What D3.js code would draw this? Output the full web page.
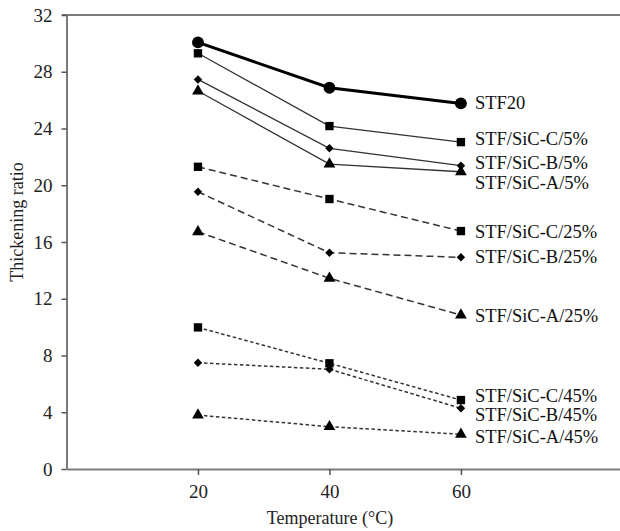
<!DOCTYPE html>
<meta charset="utf-8">
<body style="margin:0;background:#fff">
<script src="https://d3js.org/d3.v7.min.js"></script>
<script>
var width = 620, height = 531;

// data
var temps = [20, 40, 60];
var yTicks = [0, 4, 8, 12, 16, 20, 24, 28, 32];
var names = ["STF20", "STF/SiC-C/5%", "STF/SiC-B/5%", "STF/SiC-A/5%",
             "STF/SiC-C/25%", "STF/SiC-B/25%", "STF/SiC-A/25%",
             "STF/SiC-C/45%", "STF/SiC-B/45%", "STF/SiC-A/45%"];
var values = [
  [30.07, 26.87, 25.77],
  [29.3, 24.17, 23.04],
  [27.46, 22.6, 21.38],
  [26.64, 21.49, 20.95],
  [21.3, 19.03, 16.77],
  [19.54, 15.24, 14.92],
  [16.72, 13.44, 10.85],
  [9.98, 7.45, 4.86],
  [7.49, 7.03, 4.28],
  [3.8, 2.98, 2.45]
];
var labelAt = [25.81, 23.26, 21.58, 20.18, 16.72, 14.96, 10.85, 5.2, 3.82, 2.28];
var markers = ["circle", "square", "diamond", "triangle",
               "square", "diamond", "triangle",
               "square", "diamond", "triangle"];
var group = ["bold", "solid", "solid", "solid",
             "dash", "dash", "dash",
             "dot", "dot", "dot"];

var x = d3.scaleLinear().domain([0, 84.2]).range([66.5, 620]);
var y = d3.scaleLinear().domain([0, 32]).range([469, 15]);

var svg = d3.select("body").append("svg")
    .attr("width", width)
    .attr("height", height)
    .style("font-family", "'Liberation Serif', 'Times New Roman', serif");

// top frame line
svg.append("line")
    .attr("x1", 62).attr("x2", 620)
    .attr("y1", y(32)).attr("y2", y(32))
    .attr("stroke", "#7a7a7a").attr("stroke-width", 2);

var yAxis = svg.append("g")
    .attr("transform", "translate(" + x(0) + ",0)")
    .call(d3.axisLeft(y).tickValues(yTicks).tickSize(5).tickPadding(9).tickSizeOuter(0));

var xAxis = svg.append("g")
    .attr("transform", "translate(0," + y(0) + ")")
    .call(d3.axisBottom(x).tickValues(temps).tickSize(6).tickPadding(10).tickSizeOuter(0));

[yAxis, xAxis].forEach(function(a) {
  a.select(".domain").attr("stroke", "#7a7a7a").attr("stroke-width", 2);
  a.selectAll(".tick line").attr("stroke", "#555").attr("stroke-width", 1.5);
  a.selectAll(".tick text")
    .attr("fill", "#222")
    .style("font-size", "19px")
    .style("font-family", "'Liberation Serif', serif");
});

svg.append("text")
    .attr("x", 330).attr("y", 524)
    .attr("text-anchor", "middle")
    .attr("fill", "#222")
    .style("font-size", "18px")
    .text("Temperature (\u00B0C)");

svg.append("text")
    .attr("transform", "translate(23,222) rotate(-90)")
    .attr("text-anchor", "middle")
    .attr("fill", "#222")
    .style("font-size", "18px")
    .text("Thickening ratio");

var line = d3.line()
    .x(function(d, i) { return x(temps[i]); })
    .y(function(d) { return y(d); });

var styles = {
  bold: { w: 3, dash: null, c: "#000" },
  solid: { w: 1.3, dash: null, c: "#333" },
  dash: { w: 1.5, dash: "7,4", c: "#333" },
  dot: { w: 1.5, dash: "3.5,2.5", c: "#333" }
};

var symbols = {
  circle: d3.symbol().type(d3.symbolCircle).size(110),
  square: d3.symbol().type(d3.symbolSquare).size(70),
  diamond: d3.symbol().type(d3.symbolSquare).size(36),
  triangle: d3.symbol().type(d3.symbolTriangle).size(60)
};

values.forEach(function(vals, k) {
  var st = styles[group[k]];
  svg.append("path")
      .datum(vals)
      .attr("d", line)
      .attr("fill", "none")
      .attr("stroke", st.c)
      .attr("stroke-width", st.w)
      .attr("stroke-dasharray", st.dash);

  svg.selectAll(".m" + k)
    .data(vals)
    .enter()
    .append("path")
      .attr("class", "m" + k)
      .attr("transform", function(d, i) {
        var t = "translate(" + x(temps[i]) + "," + y(d) + ")";
        return markers[k] == "diamond" ? t + " rotate(45)" : t;
      })
      .attr("d", symbols[markers[k]])
      .attr("fill", "#000");

  svg.append("text")
      .attr("x", x(60) + 14)
      .attr("y", y(labelAt[k]))
      .attr("dy", "0.35em")
      .attr("fill", "#111")
      .style("font-size", "18.5px")
      .text(names[k]);
});
</script>
</body>
